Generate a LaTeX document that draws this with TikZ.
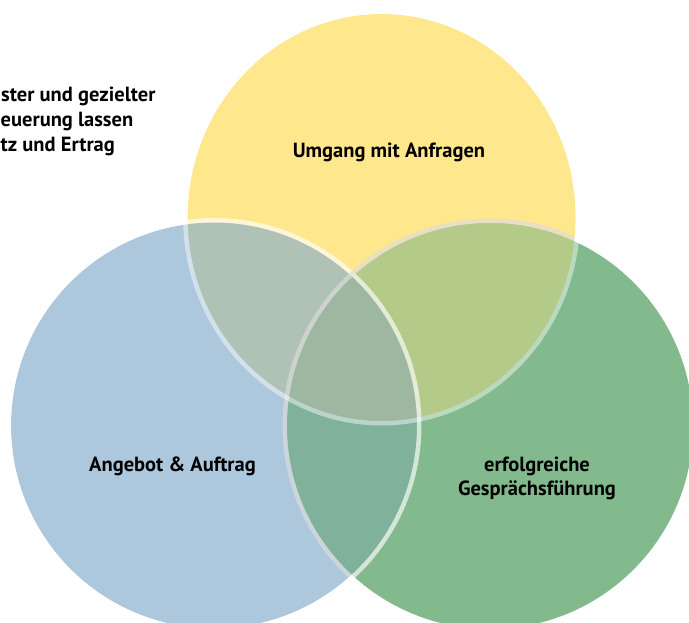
\documentclass[tikz,border=0pt]{standalone}
\usepackage{fontspec}
\setmainfont{PT Sans}
\definecolor{cyel}{HTML}{FEE78C}
\definecolor{cblu}{HTML}{ADC8DC}
\definecolor{cgrn}{HTML}{82BA8D}
\definecolor{cyb}{HTML}{AFC2B5}
\definecolor{cyg}{HTML}{B3CA89}
\definecolor{cbg}{HTML}{80B19B}
\definecolor{cybg}{HTML}{9EB7A0}
\definecolor{ringgrey}{HTML}{DDDDDD}
\newcommand\pathY{(381.6,217.5) ellipse [x radius=194, y radius=203.5]}
\newcommand\pathB{(214,425.5) circle [radius=203]}
\newcommand\pathG{(490,426) circle [radius=203]}
\begin{document}
\begin{tikzpicture}[x=1pt,y=-1pt,
  lbl/.style={font=\bfseries\fontsize{20.5}{24}\selectfont, text=black, align=center, inner sep=0pt, anchor=base},
  side/.style={font=\bfseries\fontsize{20.5}{25}\selectfont, text=black, inner sep=0pt, anchor=base west},
  ring/.style={line width=4.5pt}]
\useasboundingbox (0,0) rectangle (689,623);
% base discs
\fill[cyel] \pathY;
\fill[cblu] \pathB;
\fill[cgrn] \pathG;
% overlaps
\begin{scope}\clip \pathY; \fill[cyb] \pathB; \end{scope}
\begin{scope}\clip \pathY; \fill[cyg] \pathG; \end{scope}
\begin{scope}\clip \pathB; \fill[cbg] \pathG; \end{scope}
\begin{scope}\clip \pathY; \clip \pathB; \fill[cybg] \pathG; \end{scope}
% translucent rims just outside each disc
\draw[ring, white, opacity=.65] (214,425.5) circle [radius=205.25];
\begin{scope}
  \clip \pathY \pathB;
  \draw[ring, ringgrey, opacity=.65] (490,426) circle [radius=205.25];
\end{scope}
\draw[ring, white, opacity=.45] (381.6,217.5) ellipse [x radius=196.25, y radius=205.75];
% labels
\node[lbl] (tY) at (389,158) {Umgang mit Anfragen};
\node[lbl] (tB) at (172.5,471) {Angebot \& Auftrag};
\node[lbl] (tG1) at (537,471) {erfolgreiche};
\node[lbl] (tG2) at (537,495) {Gesprächsführung};
\node[side] (s1) at (1,102) {ster und gezielter};
\node[side] (s2) at (0.5,127) {euerung lassen};
\node[side] (s3) at (0.5,152) {tz und Ertrag};
\end{tikzpicture}
\end{document}
